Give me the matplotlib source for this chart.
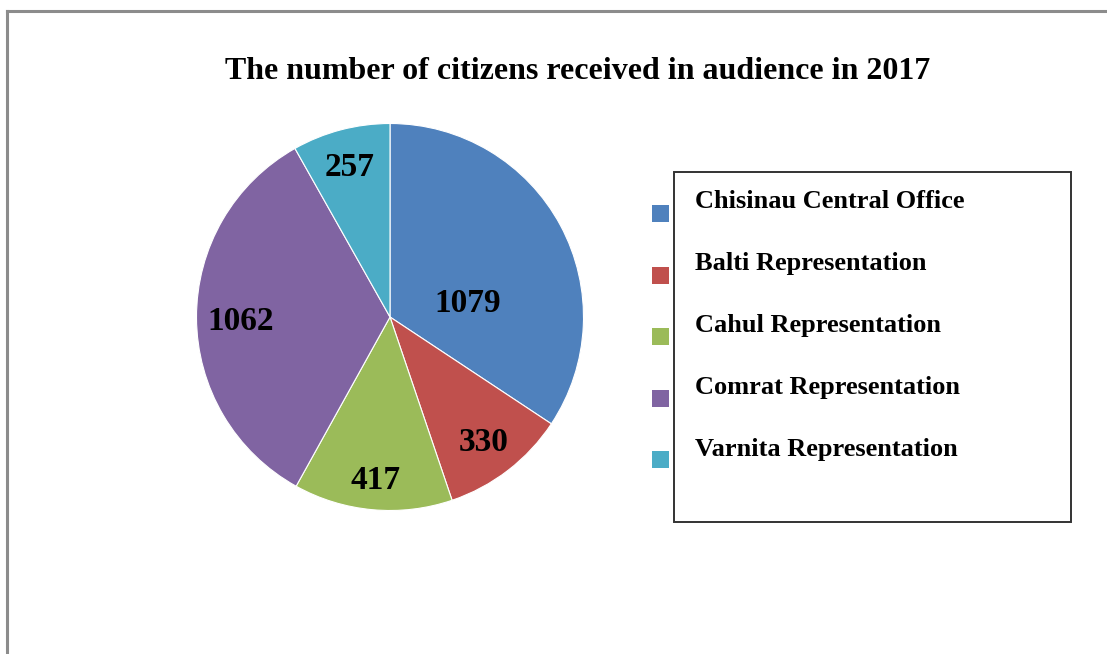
import numpy as np
import matplotlib
matplotlib.use("Agg")
import matplotlib.pyplot as plt
from matplotlib.patches import Rectangle
from matplotlib.lines import Line2D

offices = ["Chisinau Central Office", "Balti Representation", "Cahul Representation",
           "Comrat Representation", "Varnita Representation"]
citizens = [1079, 330, 417, 1062, 257]
colors = ["#4F81BD", "#C0504D", "#9BBB59", "#8064A2", "#4BACC6"]
title = "The number of citizens received in audience in 2017"

W, H = 1107, 654
plt.rcParams["font.family"] = ["Liberation Serif", "DejaVu Serif"]
fig = plt.figure(figsize=(W / 100, H / 100), dpi=100)
fig.patch.set_facecolor("white")

def fx(px):
    return px / W

def fy(py):
    return 1 - py / H

# outer chart frame (top and left edges visible)
fig.add_artist(Line2D([fx(7), 1.0], [fy(10.5), fy(10.5)], color="#8c8c8c", lw=2.2))
fig.add_artist(Line2D([fx(7), fx(7)], [fy(10.5), 0.0], color="#8c8c8c", lw=2.2))

fig.text(fx(578), fy(79), title, ha="center", va="baseline",
         fontsize=23, fontweight="bold")

# pie
cx, cy, r = 390, 317, 193.5
ax = fig.add_axes([fx(cx - r), fy(cy + r), (2 * r) / W, (2 * r) / H])
total = sum(citizens)
wedges, _, autotexts = ax.pie(
    citizens, colors=colors, startangle=90, counterclock=False, radius=1,
    autopct=lambda p: f"{round(p * total / 100)}", pctdistance=0.8,
    wedgeprops=dict(edgecolor="white", linewidth=0.8),
    textprops=dict(fontsize=24, fontweight="bold", color="black"),
)
ax.set_xlim(-1, 1)
ax.set_ylim(-1, 1)
ax.set_aspect("equal")
ax.axis("off")

# radial distance of each value label along its slice's mid-angle
label_dist = [None, 0.795, 0.83, 0.77, 0.82]
for w, t, d in zip(wedges, autotexts, label_dist):
    t.set_va("center_baseline")
    if d is None:
        continue
    mid = np.deg2rad((w.theta1 + w.theta2) / 2)
    t.set_position((d * np.cos(mid), d * np.sin(mid)))
# the large first slice carries its label nearer the centre
autotexts[0].set_position((0.403, 0.09))

# legend
box_l, box_t, box_r, box_b = 674, 172, 1071, 522
fig.add_artist(Rectangle((fx(box_l), fy(box_b)), fx(box_r) - fx(box_l), fy(box_t) - fy(box_b),
                         transform=fig.transFigure, facecolor="none",
                         edgecolor="#333333", lw=1.4))
for i, (w, name) in enumerate(zip(wedges, offices)):
    ty = 199 + 62 * i
    my = 213.5 + 61.5 * i
    fig.add_artist(Rectangle((fx(652), fy(my + 8.5)), fx(17), 17 / H,
                             transform=fig.transFigure,
                             facecolor=w.get_facecolor(), edgecolor="none"))
    fig.text(fx(695), fy(ty), name, ha="left", va="center_baseline",
             fontsize=19, fontweight="bold")

fig.savefig("out.png", dpi=100, facecolor="white")
